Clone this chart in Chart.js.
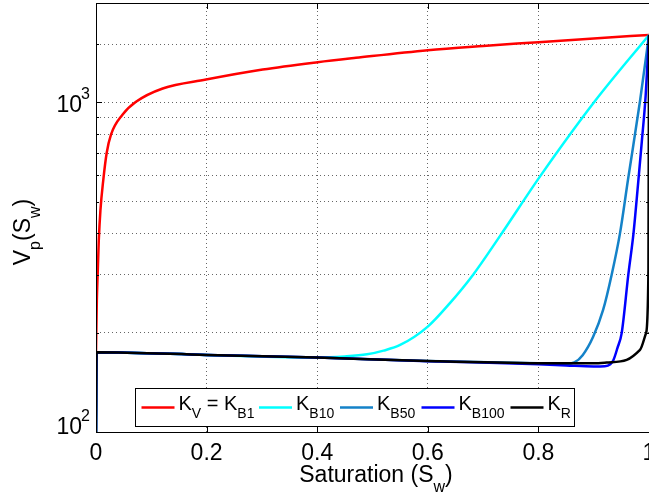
<!DOCTYPE html>
<html>
<head>
<meta charset="utf-8">
<script src="https://cdn.jsdelivr.net/npm/chart.js@4/dist/chart.umd.min.js"></script>
<style>
  html, body { margin: 0; padding: 0; background: #fff; overflow: hidden; }
</style>
</head>
<body>
<canvas id="myChart" width="660" height="497"></canvas>
<script>
const FONT = "'Liberation Sans', Arial, Helvetica, sans-serif";

// values: saturation Sw and Vp(Sw)
const redSw = [0, 0.0015, 0.003, 0.005, 0.008, 0.0132, 0.0193, 0.0271, 0.0482, 0.0723, 0.1206, 0.1989, 0.3014, 0.4008, 0.47, 0.6, 0.7, 0.8, 0.9, 1.0];
const redV  = [174.5, 250, 300, 380, 470, 582, 702, 798, 918, 1003, 1101, 1172, 1257, 1323, 1364, 1439, 1482, 1521, 1562, 1600];

const cyanSw = [0, 0.001, 0.2, 0.4, 0.45, 0.49, 0.52, 0.55, 0.6, 0.64, 0.682, 0.731, 0.803, 0.902, 1.0];
const cyanV  = [100, 174.5, 171.3, 168.2, 169.5, 172, 176.5, 183.6, 208.8, 246, 300, 394, 596, 1007, 1600];

const b50Sw = [0, 0.001, 0.2, 0.4, 0.6, 0.8, 0.85, 0.865, 0.88, 0.899, 0.917, 0.9325, 0.9476, 0.962, 0.9837, 1.0];
const b50V  = [100, 174.5, 171.3, 168.1, 164.3, 161.5, 160.8, 162.5, 171, 194.5, 234.5, 300, 401, 582, 1007, 1600];

const b100Sw = [0, 0.001, 0.2, 0.4, 0.6, 0.8, 0.85, 0.9, 0.92, 0.93, 0.9355, 0.943, 0.9506, 0.9626, 0.972, 0.98, 0.987, 0.994, 1.0];
const b100V  = [100, 174.5, 171.3, 168.1, 164, 160.5, 159.2, 158, 158.3, 160.5, 165, 180, 199.5, 300, 401, 560, 760, 1050, 1600];

const krSw = [0, 0.001, 0.2, 0.4, 0.6, 0.8, 0.9, 0.9234, 0.9596, 0.9837, 0.9946, 0.999, 1.0];
const krV  = [100, 174.5, 171.3, 168.1, 164.3, 161.7, 161.5, 162.4, 165.4, 177.4, 199.5, 310, 1600];

const xTicks = [0, 0.2, 0.4, 0.6, 0.8, 1];
const yLabelTicks = [[100, '2'], [1000, '3']];
const yMin = 100, yMax = 2000;

function pts(sw, v) {
  return sw.map((s, i) => ({x: s, y: v[i]}));
}

const series = [
  {label: [['K'], ['V', 1], [' = K'], ['B1', 1]], sw: redSw, v: redV, color: '#ff0000', order: 5},
  {label: [['K'], ['B10', 1]], sw: cyanSw, v: cyanV, color: '#00ffff', order: 4},
  {label: [['K'], ['B50', 1]], sw: b50Sw, v: b50V, color: '#1482c8', order: 3},
  {label: [['K'], ['B100', 1]], sw: b100Sw, v: b100V, color: '#0000ff', order: 2},
  {label: [['K'], ['R', 1]], sw: krSw, v: krV, color: '#000000', order: 1}
];

// text with subscripts, parts = [[text, isSub], ...]
function richWidth(ctx, parts, size) {
  let w = 0;
  for (const p of parts) {
    ctx.font = (p[1] ? Math.round(size * 0.68) : size) + 'px ' + FONT;
    w += ctx.measureText(p[0]).width;
  }
  return w;
}
function drawRich(ctx, parts, x, y, size) {
  for (const p of parts) {
    ctx.font = (p[1] ? Math.round(size * 0.68) : size) + 'px ' + FONT;
    ctx.fillText(p[0], x, p[1] ? y + size * 0.42 : y);
    x += ctx.measureText(p[0]).width;
  }
  return x;
}

const decor = {
  id: 'decor',
  afterDraw(chart) {
    const ctx = chart.ctx;
    const a = chart.chartArea;
    const xs = chart.scales.x, ys = chart.scales.y;
    ctx.save();
    ctx.strokeStyle = '#000';
    ctx.lineWidth = 1;
    ctx.strokeRect(a.left + 0.5, a.top + 0.5, a.right - a.left, a.bottom - a.top);

    // inward tick marks
    ctx.beginPath();
    for (const t of xTicks) {
      const px = Math.round(xs.getPixelForValue(t)) + 0.5;
      ctx.moveTo(px, a.bottom); ctx.lineTo(px, a.bottom - 6);
      ctx.moveTo(px, a.top); ctx.lineTo(px, a.top + 6);
    }
    ys.ticks.forEach(t => {
      const py = Math.round(ys.getPixelForValue(t.value)) + 0.5;
      const len = (t.value === 100 || t.value === 1000) ? 6 : 3;
      ctx.moveTo(a.left, py); ctx.lineTo(a.left + len, py);
      ctx.moveTo(a.right, py); ctx.lineTo(a.right - len, py);
    });
    ctx.stroke();

    ctx.fillStyle = '#000';
    ctx.textBaseline = 'alphabetic';

    // y tick labels 10^2, 10^3
    yLabelTicks.forEach(([v, e]) => {
      const py = ys.getPixelForValue(v);
      const base = v === yMin ? py + 1.5 : py + 10;
      ctx.textAlign = 'right';
      ctx.font = '16px ' + FONT;
      ctx.fillText(e, a.left - 6, base - 13);
      const ew = ctx.measureText(e).width;
      ctx.font = '23px ' + FONT;
      ctx.fillText('10', a.left - 6 - ew + 1, base);
    });
    ctx.textAlign = 'left';

    // x title
    const xt = [['Saturation (S'], ['w', 1], [')']];
    const xw = richWidth(ctx, xt, 23);
    drawRich(ctx, xt, 376 - xw / 2, 482, 23);

    // y title
    const yt = [['V'], ['p', 1], ['(S'], ['w', 1], [')']];
    ctx.save();
    ctx.translate(30, 232);
    ctx.rotate(-Math.PI / 2);
    const yw = richWidth(ctx, yt, 23);
    drawRich(ctx, yt, -yw / 2, 0, 23);
    ctx.restore();

    // legend
    const lx = 135, ly = 388, lw = 439, lh = 38;
    const entryX = [141.5, 259, 340, 421.5, 510.5];
    ctx.fillStyle = '#fff';
    ctx.fillRect(lx, ly, lw, lh);
    ctx.strokeStyle = '#000';
    ctx.lineWidth = 1;
    ctx.strokeRect(lx + 0.5, ly + 0.5, lw, lh);
    const midY = 407.5;
    series.forEach((s, i) => {
      const x = entryX[i];
      ctx.strokeStyle = s.color;
      ctx.lineWidth = 2.5;
      ctx.beginPath();
      ctx.moveTo(x, midY); ctx.lineTo(x + 33, midY);
      ctx.stroke();
      ctx.fillStyle = '#000';
      drawRich(ctx, s.label, x + 37, 410, 20);
    });
    ctx.restore();
  }
};

const ctx = document.getElementById('myChart').getContext('2d');
const myChart = new Chart(ctx, {
  type: 'line',
  data: {
    datasets: series.map(s => ({
      data: pts(s.sw, s.v),
      borderColor: s.color,
      borderWidth: 2.5,
      pointRadius: 0,
      fill: false,
      cubicInterpolationMode: 'monotone',
      order: s.order
    }))
  },
  options: {
    responsive: false,
    animation: false,
    devicePixelRatio: 1,
    layout: {padding: {top: 3, right: 11, left: 0, bottom: 0}},
    plugins: {legend: {display: false}, tooltip: {enabled: false}},
    scales: {
      x: {
        type: 'linear',
        min: 0, max: 1,
        afterFit: s => { s.height = 65; s.paddingLeft = 0; s.paddingRight = 0; },
        afterBuildTicks: s => { s.ticks = xTicks.map(v => ({value: v})); },
        ticks: {
          color: '#000',
          padding: 8,
          maxRotation: 0,
          font: {family: FONT, size: 23},
          callback: v => String(Number(v.toFixed(1)))
        },
        grid: {color: 'rgba(0,0,0,0.6)', drawTicks: false},
        border: {display: false, dash: [1, 3]}
      },
      y: {
        type: 'logarithmic',
        min: yMin, max: yMax,
        afterFit: s => { s.width = 96; s.paddingTop = 0; s.paddingBottom = 0; },
        ticks: {
          autoSkip: false,
          font: {family: FONT, size: 10},
          callback: () => ''
        },
        grid: {color: 'rgba(0,0,0,0.6)', drawTicks: false},
        border: {display: false, dash: [1, 3]}
      }
    }
  },
  plugins: [decor]
});
</script>
</body>
</html>
